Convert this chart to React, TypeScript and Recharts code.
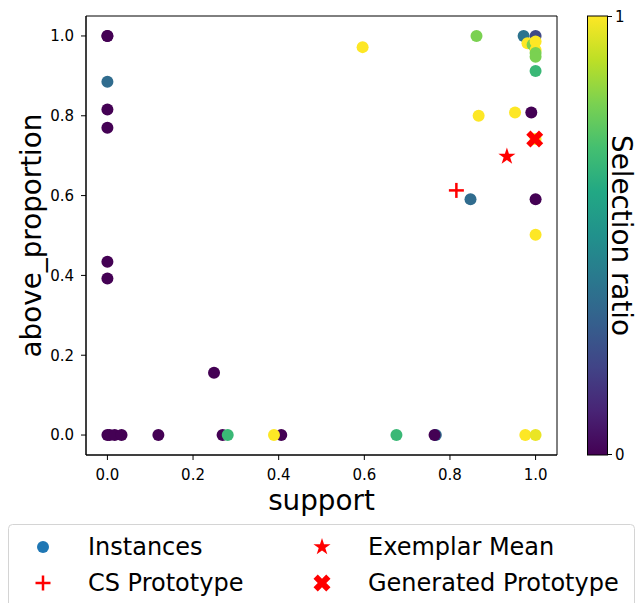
import { ScatterChart, Scatter, XAxis, YAxis, ReferenceArea } from "recharts";

// instances: support, above_proportion and selection ratio (colour)
const support = [
  0, 0, 0, 0, 0, 0, 0, 0.249,
  0, 0.005, 0.017, 0.033, 0.119, 0.269, 0.281, 0.406, 0.389,
  0.675, 0.767, 0.764, 0.976, 1.0,
  0.596, 0.862, 0.972, 1.0, 0.981, 0.993, 1.0, 1.0, 1.0, 1.0, 1.0,
  0.99, 0.867, 0.952, 0.848, 1.0, 1.0, 1.0,
];
const aboveProportion = [
  1.0, 1.0, 0.885, 0.816, 0.77, 0.434, 0.392, 0.156,
  0, 0, 0, 0, 0, 0, 0, 0, 0,
  0, 0, 0, 0, 0,
  0.972, 1.0, 1.0, 1.0, 0.982, 0.978, 0.986, 0.965, 0.957, 0.948, 0.912,
  0.808, 0.8, 0.808, 0.591, 0.591, 0.502, 0.742,
];
const selectionRatio = [
  0, 0, 0.35, 0, 0, 0, 0, 0,
  0, 0, 0, 0, 0, 0, 0.67, 0, 1.0,
  0.67, 0.35, 0, 1.0, 0.97,
  1.0, 0.8, 0.38, 0.22, 1.0, 0.8, 1.0, 1.0, 0.8, 0.8, 0.67,
  0, 1.0, 1.0, 0.35, 0, 1.0, 1.0,
];

const csPrototype = [{ x: 0.815, y: 0.613 }];
const exemplarMean = [{ x: 0.933, y: 0.698 }];
const generatedPrototype = [{ x: 0.998, y: 0.742 }];

const axisTicks = [0, 0.2, 0.4, 0.6, 0.8, 1.0];
const viridisStops = [
  "#440154", "#482475", "#414487", "#355f8d", "#2a788e", "#21918c",
  "#22a884", "#44bf70", "#7ad151", "#bddf26", "#fde725",
];

const FONT = "'DejaVu Sans', sans-serif";
const TITLE = 27.8;

const hexToRgb = (h: string) => [1, 3, 5].map((i) => parseInt(h.slice(i, i + 2), 16));
function viridis(t: number) {
  const v = Math.max(0, Math.min(1, t)) * (viridisStops.length - 1);
  const i = Math.min(Math.floor(v), viridisStops.length - 2);
  const f = v - i;
  const a = hexToRgb(viridisStops[i]);
  const b = hexToRgb(viridisStops[i + 1]);
  const c = a.map((ai, k) => Math.round(ai + (b[k] - ai) * f));
  return `rgb(${c[0]},${c[1]},${c[2]})`;
}

const instances = support.map((s, i) => ({ x: s, y: aboveProportion[i], ratio: selectionRatio[i] }));

function starPath(cx: number, cy: number, R: number) {
  const r = R * 0.381966;
  const pts: string[] = [];
  for (let k = 0; k < 10; k++) {
    const ang = -Math.PI / 2 + (k * Math.PI) / 5;
    const rad = k % 2 === 0 ? R : r;
    pts.push(`${cx + rad * Math.cos(ang)},${cy + rad * Math.sin(ang)}`);
  }
  return pts.join(" ");
}

const xShape = [
  [-1, -2], [0, -1], [1, -2], [2, -1], [1, 0], [2, 1],
  [1, 2], [0, 1], [-1, 2], [-2, 1], [-1, 0], [-2, -1],
];
function xPath(cx: number, cy: number, s: number) {
  return xShape.map(([a, b]) => `${cx + (a / 4) * s},${cy + (b / 4) * s}`).join(" ");
}

const Star = ({ cx, cy, R = 9 }: any) => <polygon points={starPath(cx, cy, R)} fill="#ff0000" />;
const Plus = ({ cx, cy, s = 15 }: any) => (
  <g stroke="#ff0000" strokeWidth={2.5}>
    <line x1={cx - s / 2} y1={cy} x2={cx + s / 2} y2={cy} />
    <line x1={cx} y1={cy - s / 2} x2={cx} y2={cy + s / 2} />
  </g>
);
const Cross = ({ cx, cy, s = 17 }: any) => <polygon points={xPath(cx, cy, s)} fill="#ff0000" />;

const tickFmt = (v: number) => v.toFixed(1);

export default function App() {
  return (
    <div style={{ position: "absolute", left: 0, top: 0, width: 641, height: 603, background: "#fff", fontFamily: FONT }}>
      <ScatterChart width={641} height={603} margin={{ top: 16, right: 84, left: 26, bottom: 118 }}>
        <XAxis
          type="number" dataKey="x" domain={[-0.05, 1.05]} ticks={axisTicks} tickFormatter={tickFmt}
          height={30} allowDataOverflow tickSize={5} tickMargin={9}
          axisLine={{ stroke: "#000" }} tickLine={{ stroke: "#000" }}
          tick={{ fill: "#000", fontSize: 15, fontFamily: FONT }}
        />
        <YAxis
          type="number" dataKey="y" domain={[-0.05, 1.05]} ticks={axisTicks} tickFormatter={tickFmt}
          width={60} allowDataOverflow tickSize={5} tickMargin={7}
          axisLine={{ stroke: "#000" }} tickLine={{ stroke: "#000" }}
          tick={{ fill: "#000", fontSize: 15, fontFamily: FONT }}
        />
        <ReferenceArea
          x1={-0.05} x2={1.05} y1={-0.05} y2={1.05}
          fill="none" fillOpacity={0} stroke="#000" strokeWidth={1} ifOverflow="visible"
        />
        <Scatter
          data={instances} isAnimationActive={false}
          shape={(p: any) => <circle cx={p.cx} cy={p.cy} r={6} fill={viridis(p.payload.ratio)} />}
        />
        <Scatter data={csPrototype} isAnimationActive={false} shape={(p: any) => <Plus cx={p.cx} cy={p.cy} />} />
        <Scatter data={exemplarMean} isAnimationActive={false} shape={(p: any) => <Star cx={p.cx} cy={p.cy} />} />
        <Scatter data={generatedPrototype} isAnimationActive={false} shape={(p: any) => <Cross cx={p.cx} cy={p.cy} />} />
      </ScatterChart>

      <svg width={641} height={603} style={{ position: "absolute", left: 0, top: 0, pointerEvents: "none" }}>
        <defs>
          <linearGradient id="viridis" x1="0" y1="1" x2="0" y2="0">
            {viridisStops.map((c, i) => (
              <stop key={i} offset={i / (viridisStops.length - 1)} stopColor={c} />
            ))}
          </linearGradient>
        </defs>
        {/* axis titles */}
        <text x={321.5} y={510} textAnchor="middle" fontSize={TITLE} fontFamily={FONT} fill="#000">support</text>
        <text x={41} y={235.5} textAnchor="middle" fontSize={TITLE} fontFamily={FONT} fill="#000"
          transform="rotate(-90 41 235.5)">above_proportion</text>

        {/* colorbar */}
        <rect x={587.5} y={16} width={20} height={439} fill="url(#viridis)" stroke="#000" strokeWidth={1} />
        <line x1={607.5} y1={16.5} x2={612} y2={16.5} stroke="#000" />
        <line x1={607.5} y1={454.5} x2={612} y2={454.5} stroke="#000" />
        <text x={615} y={22} fontSize={15} fontFamily={FONT} fill="#000">1</text>
        <text x={615} y={460} fontSize={15} fontFamily={FONT} fill="#000">0</text>
        <text x={612} y={235.5} textAnchor="middle" fontSize={TITLE} fontFamily={FONT} fill="#000"
          transform="rotate(90 612 235.5)">Selection ratio</text>

        {/* legend */}
        <rect x={8.5} y={524.5} width={626} height={90} rx={4} fill="#fff" stroke="#d4d4d4" strokeWidth={1} />
        <circle cx={43} cy={547} r={6} fill="#1f77b4" />
        <text x={88} y={555} fontSize={24} fontFamily={FONT} fill="#000">Instances</text>
        <Plus cx={43} cy={583} />
        <text x={88} y={591} fontSize={24} fontFamily={FONT} fill="#000">CS Prototype</text>
        <Star cx={322} cy={547} />
        <text x={368} y={555} fontSize={24} fontFamily={FONT} fill="#000">Exemplar Mean</text>
        <Cross cx={322} cy={583} />
        <text x={368} y={591} fontSize={24} fontFamily={FONT} fill="#000">Generated Prototype</text>
      </svg>
    </div>
  );
}
